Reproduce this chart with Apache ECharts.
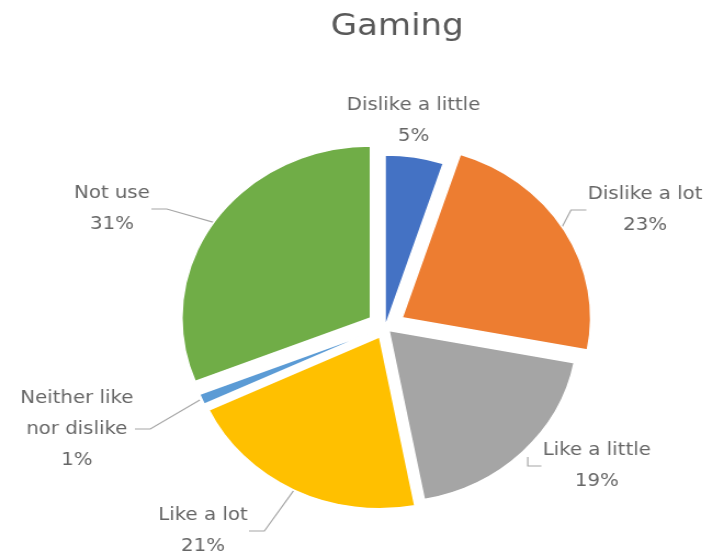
<!DOCTYPE html>
<html>
<head>
<meta charset="utf-8">
<script src="https://cdn.jsdelivr.net/npm/echarts@6/dist/echarts.min.js"></script>
<style>
  html, body { margin: 0; padding: 0; background: #fff; overflow: hidden; }
  #wrap { width: 713px; height: 555px; overflow: hidden; }
  /* chart is drawn narrower and stretched sideways */
  #chart { width: 650px; height: 555px; transform: scaleX(1.097); transform-origin: 0 0; }
</style>
</head>
<body>
<div id="wrap"><div id="chart"></div></div>
<script>
const titleText = 'Gaming';
const categories = ['Dislike a little', 'Dislike a lot', 'Like a little', 'Like a lot', 'Neither like\nnor dislike', 'Not use'];
const shares = [5, 23, 19, 21, 1, 31];
const colors = ['#4472C4', '#ED7D31', '#A5A5A5', '#FFC000', '#5B9BD5', '#70AD47'];

// pie geometry (chart units, before the sideways stretch)
const pieCenter = [351, 327];
const pieRadius = 172;
// how far each slice is pulled out of the pie
const explodeBy = [0, 18, 5, 11, 10, 16];
// where each label sits, relative to the pie centre
const labelSpots = [[26, -206], [237, -117], [193, 139], [-166, 204], [-281, 102], [-249, -118]];

const labelFont = '18px "DejaVu Sans"';

// width of the widest line of a label, so its box hugs the text
const measureCtx = document.createElement('canvas').getContext('2d');
measureCtx.font = labelFont;
function labelWidth(i) {
  const lines = (categories[i] + '\n' + shares[i] + '%').split('\n');
  return Math.ceil(Math.max.apply(null, lines.map(t => measureCtx.measureText(t).width))) + 2;
}

const chart = echarts.init(document.getElementById('chart'), null, { renderer: 'canvas' });

// each slice is its own pie series so it can be pulled out by its own amount
const sliceSeries = categories.map((name, i) => ({
  type: 'pie',
  center: pieCenter,
  radius: ['0%', pieRadius],
  startAngle: 90,
  clockwise: true,
  selectedMode: 'single',
  selectedOffset: explodeBy[i],
  emphasis: { disabled: true },
  silent: true,
  itemStyle: { borderColor: '#fff', borderWidth: 1.5 },
  label: { show: false },
  labelLine: { show: false },
  data: categories.map((n, j) => ({
    name: n,
    value: shares[j],
    selected: j === i && explodeBy[i] > 0,
    itemStyle: j === i
      ? { color: colors[j] }
      : { color: 'rgba(0,0,0,0)', borderWidth: 0 }
  }))
}));

// invisible copy of the slices that carries the labels and leader lines
const labelSeries = {
  type: 'pie',
  silent: true,
  center: pieCenter,
  radius: ['0%', pieRadius + 12],
  startAngle: 90,
  clockwise: true,
  emphasis: { disabled: true },
  itemStyle: { color: 'rgba(0,0,0,0)', borderWidth: 0 },
  label: {
    show: true,
    position: 'outside',
    formatter: '{b}\n{c}%',
    color: '#666666',
    fontSize: 18,
    lineHeight: 31,
    fontFamily: 'DejaVu Sans',
    align: 'center',
    overflow: 'none'
  },
  labelLine: {
    show: true,
    length: 12,
    length2: 14,
    lineStyle: { color: '#A6A6A6', width: 1.2 }
  },
  labelLayout: function (params) {
    const i = params.dataIndex;
    const spot = labelSpots[i];
    return {
      x: pieCenter[0] + spot[0],
      y: pieCenter[1] + spot[1],
      width: labelWidth(i),
      align: 'center',
      verticalAlign: 'middle'
    };
  },
  data: categories.map((name, i) => ({
    name: name,
    value: shares[i],
    labelLine: { show: i !== 0 }
  }))
};

chart.setOption({
  animation: false,
  title: {
    text: titleText,
    left: 357,
    top: 6,
    textAlign: 'center',
    textStyle: { color: '#595959', fontSize: 31, fontWeight: 'normal', fontFamily: 'DejaVu Sans' }
  },
  series: sliceSeries.concat([labelSeries])
});
</script>
</body>
</html>
